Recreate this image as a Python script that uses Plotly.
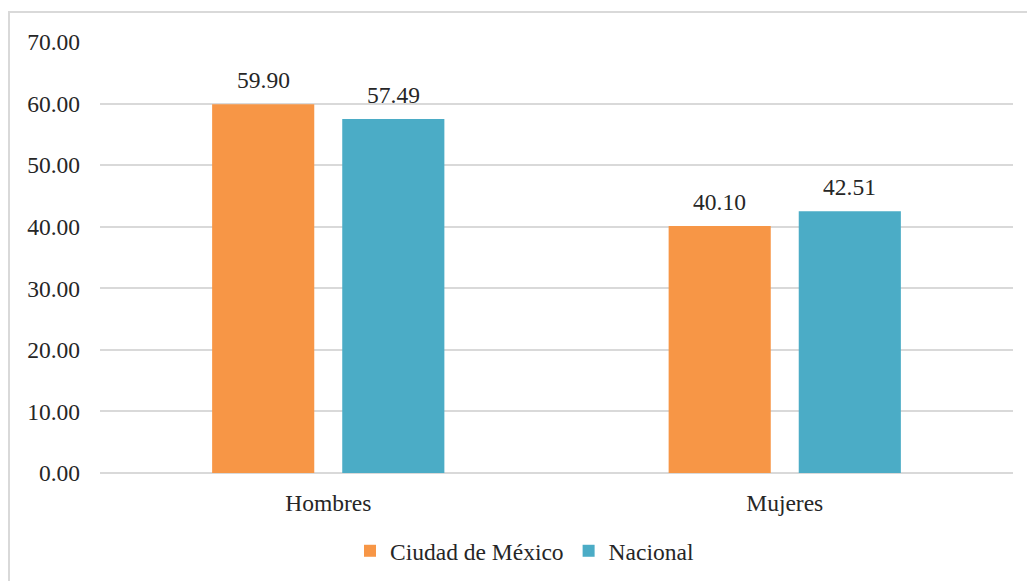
import plotly.graph_objects as go

categories = ["Hombres", "Mujeres"]
series_names = ["Ciudad de México", "Nacional"]
cdmx_values = [59.90, 40.10]
nacional_values = [57.49, 42.51]
y_ticks = [0, 10, 20, 30, 40, 50, 60, 70]

colors = ["#F79646", "#4BACC6"]
FONT = "Liberation Serif, Times New Roman, serif"
FS = 23.5
TXT = "#262626"

fig = go.Figure()
all_series = [cdmx_values, nacional_values]
for name, vals, col in zip(series_names, all_series, colors):
    fig.add_trace(go.Bar(
        x=categories, y=vals, name=name,
        marker=dict(color=col, line=dict(width=0)),
    ))

# data labels above each bar
offsets = [-65, 65]
for vals, dx in zip(all_series, offsets):
    for cat, v in zip(categories, vals):
        fig.add_annotation(x=cat, y=v, xref="x", yref="y", text=f"{v:.2f}",
                           showarrow=False, xshift=dx, yshift=9, yanchor="bottom",
                           font=dict(family=FONT, size=FS, color=TXT))

W, H = 1027, 581
L, R, T, B = 100, 14, 42, 108
pw, ph = W - L - R, H - T - B

def px_x(p):
    return (p - L) / pw

def px_y(p):
    return (H - B - p) / ph

fig.add_shape(type="rect", xref="paper", yref="paper",
              x0=px_x(9), x1=px_x(1040), y0=px_y(600), y1=px_y(12),
              line=dict(color="#d9d9d9", width=2), fillcolor="rgba(0,0,0,0)", layer="below")

fig.update_layout(
    width=W, height=H,
    margin=dict(l=L, r=R, t=T, b=B, pad=0),
    paper_bgcolor="white", plot_bgcolor="white",
    barmode="group", bargap=0.43, bargroupgap=0.215,
    font=dict(family=FONT, size=FS, color=TXT),
    showlegend=True,
    legend=dict(orientation="h", xref="container", x=350 / W, xanchor="left",
                yref="container", y=(H - 551) / H, yanchor="middle",
                font=dict(family=FONT, size=FS, color=TXT), itemwidth=30,
                traceorder="normal"),
    xaxis=dict(showgrid=False, showline=False, zeroline=False, ticks="",
               automargin=False,
               ticklabelstandoff=13, tickfont=dict(family=FONT, size=FS, color=TXT)),
    yaxis=dict(range=[0, 70], tickvals=y_ticks, tickformat=".2f",
               automargin=False,
               showgrid=True, gridcolor="#d9d9d9", gridwidth=1.5,
               zeroline=True, zerolinecolor="#d9d9d9", zerolinewidth=1.5,
               showline=False, ticks="", ticklabelstandoff=19,
               tickfont=dict(family=FONT, size=FS, color=TXT)),
)

fig.write_html("out.html", config={"displayModeBar": False},
               post_script="document.body.style.margin='0';document.body.style.overflow='hidden';")
